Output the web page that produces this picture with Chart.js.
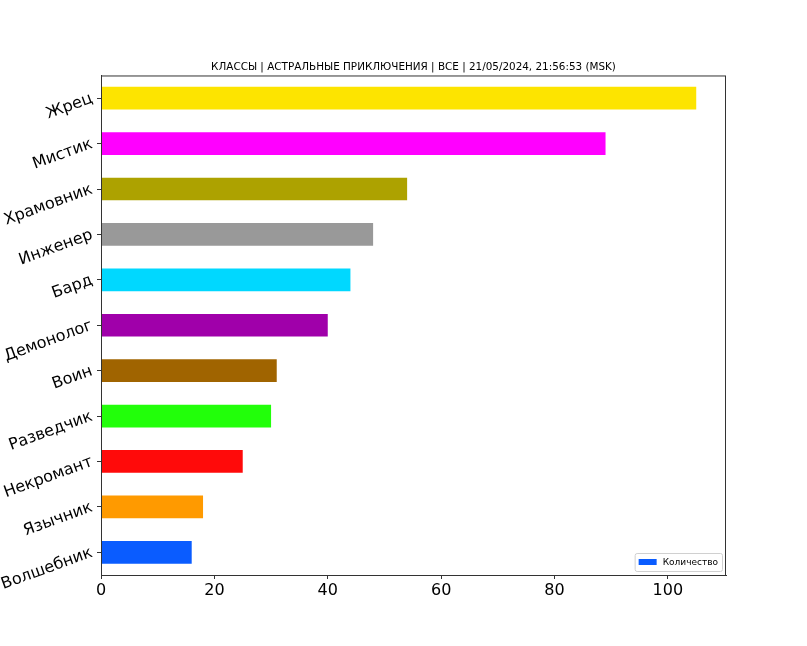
<!DOCTYPE html>
<html>
<head>
<meta charset="utf-8">
<script src="https://cdn.jsdelivr.net/npm/chart.js@4.4.1/dist/chart.umd.min.js"></script>
<style>
  html, body { margin: 0; padding: 0; background: #ffffff; }
  #c { display: block; }
</style>
</head>
<body>
<canvas id="c" width="807" height="646"></canvas>
<script>
// ---- data ----
const titleText = 'КЛАССЫ | АСТРАЛЬНЫЕ ПРИКЛЮЧЕНИЯ | ВСЕ | 21/05/2024, 21:56:53 (MSK)';
const seriesLabel = 'Количество';
const categories = ['Жрец', 'Мистик', 'Храмовник', 'Инженер', 'Бард', 'Демонолог', 'Воин', 'Разведчик', 'Некромант', 'Язычник', 'Волшебник'];
const counts = [105, 89, 54, 48, 44, 40, 31, 30, 25, 18, 16];
const barColors = ['#fde400', '#ff00ff', '#ada200', '#999999', '#00d8ff', '#a000aa', '#a06400', '#22ff0a', '#ff0a0a', '#ff9a00', '#0a5cff'];
const xTicks = [0, 20, 40, 60, 80, 100];
const xMin = 0;
const xMax = 110.25;

const FONT = 'DejaVu Sans';
const AXIS_COLOR = '#333333';

const frameAndLegend = {
  id: 'frameAndLegend',
  afterDatasetsDraw(chart) {
    const ctx = chart.ctx;
    const a = chart.chartArea;
    ctx.save();
    // axes frame (all four sides)
    ctx.strokeStyle = AXIS_COLOR;
    ctx.lineWidth = 1;
    ctx.strokeRect(a.left + 0.5, a.top + 0.5, a.right - a.left - 1, a.bottom - a.top);
    // legend
    const ds = chart.data.datasets[0];
    const label = ds.label;
    ctx.font = '9px "' + FONT + '"';
    const tw = ctx.measureText(label).width;
    const boxW = 18, boxH = 6, padX = 4, gap = 6;
    const w = padX + boxW + gap + tw + padX;
    const h = 18;
    const x0 = a.right - 4 - w;
    const y0 = a.bottom - 4 - h;
    ctx.fillStyle = 'rgba(255,255,255,0.85)';
    ctx.strokeStyle = '#d0d0d0';
    ctx.beginPath();
    if (ctx.roundRect) ctx.roundRect(x0 + 0.5, y0 + 0.5, w, h, 2); else ctx.rect(x0 + 0.5, y0 + 0.5, w, h);
    ctx.fill();
    ctx.stroke();
    const legendColor = Array.isArray(ds.backgroundColor) ? ds.backgroundColor[ds.backgroundColor.length - 1] : ds.backgroundColor;
    ctx.fillStyle = legendColor;
    ctx.fillRect(x0 + padX, y0 + h / 2 - boxH / 2, boxW, boxH);
    ctx.fillStyle = '#000';
    ctx.textBaseline = 'middle';
    ctx.textAlign = 'left';
    ctx.fillText(label, x0 + padX + boxW + gap, y0 + h / 2 + 0.5);
    ctx.restore();
  }
};

new Chart(document.getElementById('c'), {
  type: 'bar',
  data: {
    labels: categories,
    datasets: [{
      label: seriesLabel,
      data: counts,
      backgroundColor: barColors,
      borderWidth: 0,
      barPercentage: 0.5,
      categoryPercentage: 1.0
    }]
  },
  options: {
    indexAxis: 'y',
    responsive: false,
    animation: false,
    devicePixelRatio: 1,
    layout: { padding: { left: 0, right: 81, top: 61, bottom: 0 } },
    plugins: {
      legend: { display: false },
      tooltip: { enabled: false },
      title: {
        display: true,
        text: titleText,
        fullSize: false,
        color: '#000',
        font: { family: FONT, size: 10.4, weight: 'normal' },
        padding: { top: 0, bottom: 2 }
      }
    },
    scales: {
      x: {
        type: 'linear',
        min: xMin,
        max: xMax,
        afterBuildTicks: (s) => { s.ticks = xTicks.map(v => ({ value: v })); },
        afterFit: (s) => { s.height = 71; },
        grid: { display: true, drawOnChartArea: false, drawTicks: true, tickLength: 4, color: AXIS_COLOR },
        border: { display: true, color: AXIS_COLOR },
        ticks: { color: '#000', font: { family: FONT, size: 16 }, padding: 2, maxRotation: 0 }
      },
      y: {
        type: 'category',
        afterFit: (s) => { s.width = 101; },
        grid: { display: true, drawOnChartArea: false, drawTicks: true, tickLength: 4, color: AXIS_COLOR, offset: false },
        border: { display: true, color: AXIS_COLOR },
        ticks: { color: '#000', font: { family: FONT, size: 16 }, padding: 5, minRotation: 20, maxRotation: 20, autoSkip: false }
      }
    }
  },
  plugins: [frameAndLegend]
});
</script>
</body>
</html>
